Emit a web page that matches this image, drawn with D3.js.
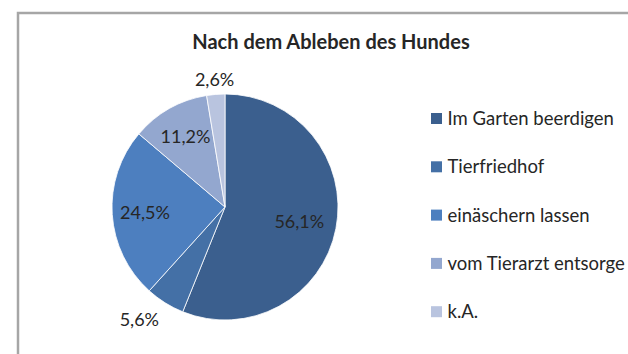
<!DOCTYPE html>
<html>
<head>
<meta charset="utf-8">
<script src="https://cdn.jsdelivr.net/npm/d3@7"></script>
<style>
  html, body { margin: 0; padding: 0; background: #fff; }
  svg { display: block; }
  text { font-family: Lato, "Open Sans", sans-serif; fill: #262626; }
</style>
</head>
<body>
<svg id="chart" width="628" height="354"></svg>
<script>
const categories = ["Im Garten beerdigen", "Tierfriedhof", "einäschern lassen", "vom Tierarzt entsorge", "k.A."];
const values = [56.1, 5.6, 24.5, 11.2, 2.6];
const valueLabels = ["56,1%", "5,6%", "24,5%", "11,2%", "2,6%"];
const colors = ["#3b5f8e", "#4470a6", "#4d7fbf", "#93a7cf", "#b9c4df"];
const title = "Nach dem Ableben des Hundes";

const svg = d3.select("#chart");

// chart area frame (top and left edges visible)
svg.append("path")
  .attr("d", "M18,354 V13 H628")
  .attr("fill", "none")
  .attr("stroke", "#a6a6a6")
  .attr("stroke-width", 2.5);

svg.append("text")
  .attr("x", 331).attr("y", 49)
  .attr("text-anchor", "middle")
  .style("font-weight", "bold")
  .style("font-size", "20px")
  .text(title);

const cx = 225, cy = 207, r = 113;
const pie = d3.pie().sort(null).value(d => d)(values);
const arc = d3.arc().innerRadius(0).outerRadius(r);
const color = d3.scaleOrdinal().domain(categories).range(colors);

const g = svg.append("g").attr("transform", `translate(${cx},${cy})`);
g.selectAll("path.slice")
  .data(pie)
  .join("path")
  .attr("class", "slice")
  .attr("d", arc)
  .attr("fill", (d, i) => color(categories[i]))
  .attr("stroke", "#fff")
  .attr("stroke-width", 0.8);

// label radius (fraction of r) and alignment per slice
const radii = [0.67, 1.1, 0.71, 0.71, 1.13];
const anchors = ["middle", "end", "middle", "middle", "middle"];
const dys = ["0.35em", "0.75em", "0.35em", "0.35em", "0.35em"];
g.selectAll("text.val")
  .data(pie)
  .join("text")
  .attr("class", "val")
  .attr("transform", (d, i) => {
    const a = d3.arc().innerRadius(r * radii[i]).outerRadius(r * radii[i]);
    const [x, y] = a.centroid(d);
    return `translate(${x},${y})`;
  })
  .attr("text-anchor", (d, i) => anchors[i])
  .attr("dy", (d, i) => dys[i])
  .style("font-size", "18px")
  .text((d, i) => valueLabels[i]);

// legend
const legend = svg.append("g").attr("transform", "translate(431,118.5)");
const rowH = 48.3;
const item = legend.selectAll("g")
  .data(categories)
  .join("g")
  .attr("transform", (d, i) => `translate(0,${i * rowH})`);
item.append("rect")
  .attr("x", 0).attr("y", -5.5)
  .attr("width", 11).attr("height", 11)
  .attr("fill", d => color(d));
item.append("text")
  .attr("x", 16.5).attr("y", 0)
  .attr("dy", "0.35em")
  .style("font-size", "18.5px")
  .text(d => d);
</script>
</body>
</html>
